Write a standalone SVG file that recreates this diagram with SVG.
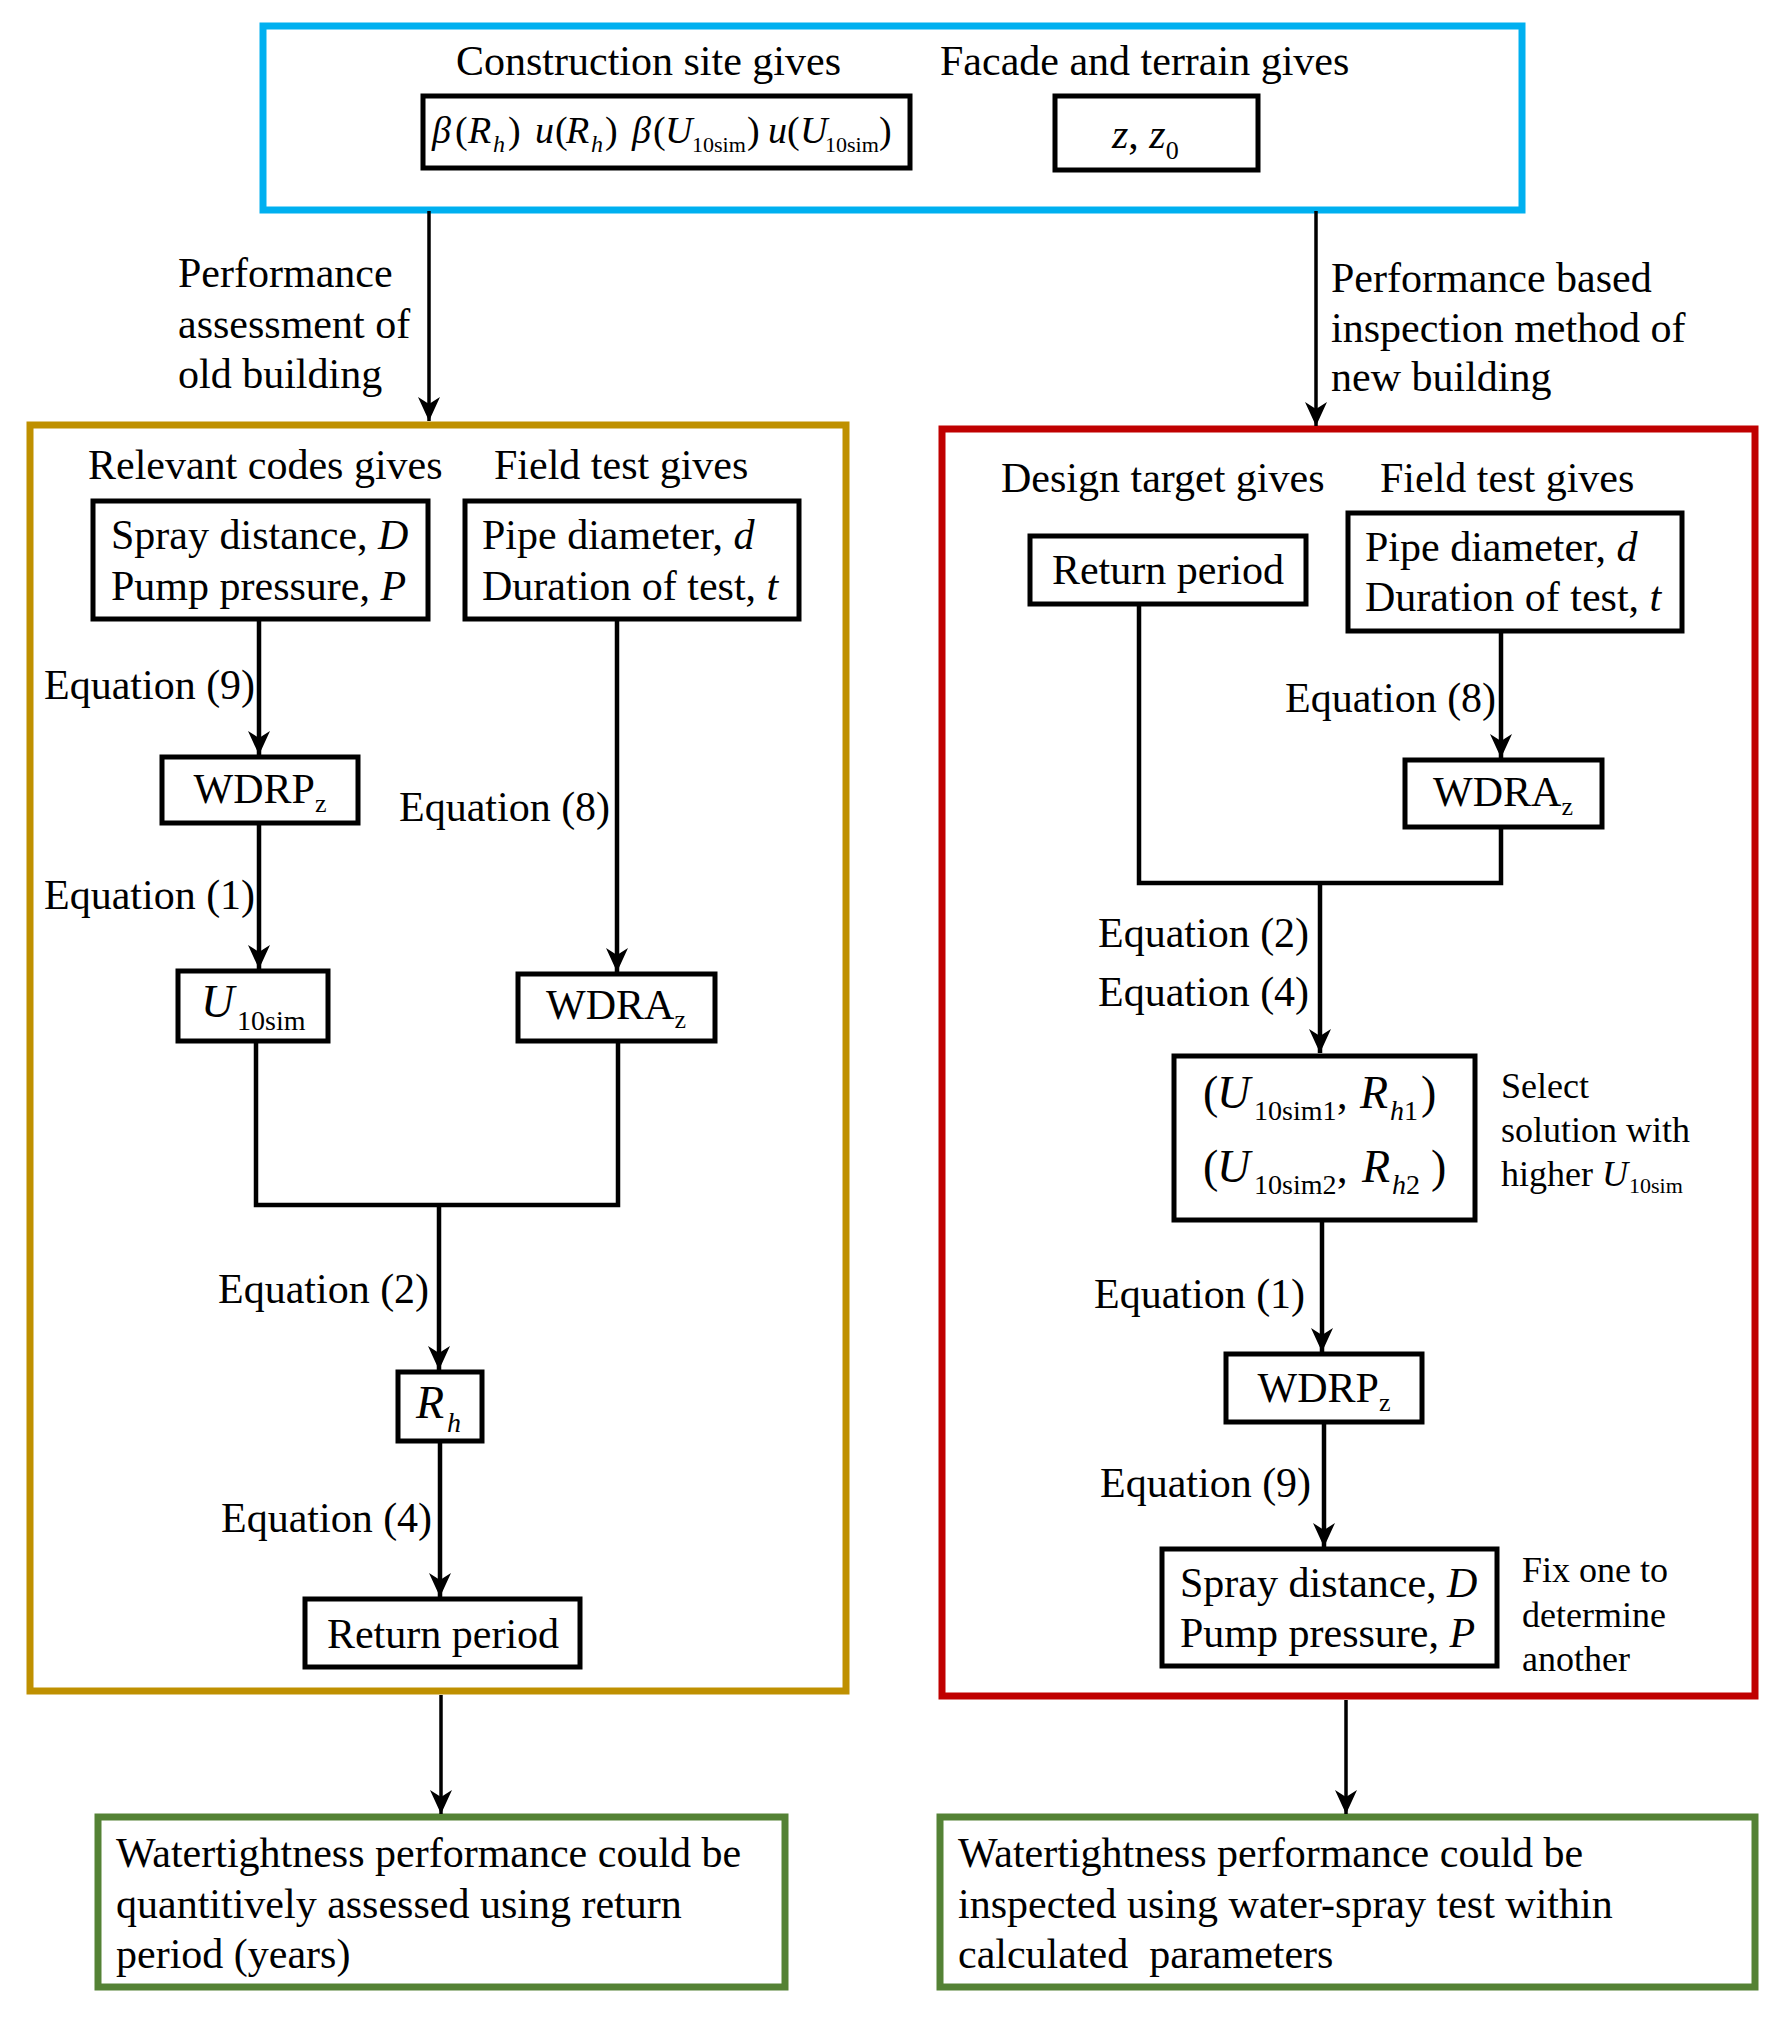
<svg xmlns="http://www.w3.org/2000/svg" width="1792" height="2020" viewBox="0 0 1792 2020">
<style>
text{font-family:"Liberation Serif","Times New Roman",serif;fill:#000;font-size:42px}
.i{font-style:italic}
.s{font-size:26px}
.m{text-anchor:middle}
.box{fill:#fff;stroke:#000;stroke-width:5}
.cn{fill:none;stroke:#000;stroke-width:4.5}
.co{fill:none;stroke:#000;stroke-width:3.5}
.f38{font-size:38px}
.f36{font-size:36px}
.f46{font-size:46px}
.f28{font-size:28px}
.f24{font-size:24px}
.f22{font-size:22px}
</style>
<defs>
<marker id="ah" viewBox="0 0 24 22" refX="24" refY="11" markerWidth="24" markerHeight="22" markerUnits="userSpaceOnUse" orient="auto">
<path d="M0,0 L24,11 L0,22 L7,11 z" fill="#000"/>
</marker>
</defs>

<g id="top-panel">
<rect x="263" y="26" width="1259" height="184" fill="#fff" stroke="#00B0F0" stroke-width="7"/>
<text x="456" y="75">Construction site gives</text>
<text x="940" y="75">Facade and terrain gives</text>
</g>
<g id="node-formula">
<rect class="box" x="423" y="96" width="487" height="72"/>
<text class="f38" y="143"><tspan x="432" class="i">β</tspan><tspan x="455">(</tspan><tspan x="468" class="i">R</tspan></text>
<text class="f24 i" x="493" y="152">h</text>
<text class="f38" y="143"><tspan x="508">)</tspan><tspan x="535" class="i">u</tspan><tspan x="555">(</tspan><tspan x="566" class="i">R</tspan></text>
<text class="f24 i" x="591" y="152">h</text>
<text class="f38" y="143"><tspan x="605">)</tspan><tspan x="632" class="i">β</tspan><tspan x="653">(</tspan><tspan x="665" class="i">U</tspan></text>
<text class="f22" x="692" y="152">10sim</text>
<text class="f38" y="143"><tspan x="747">)</tspan><tspan x="768" class="i">u</tspan><tspan x="787">(</tspan><tspan x="800" class="i">U</tspan></text>
<text class="f22" x="825" y="152">10sim</text>
<text class="f38" x="879" y="143">)</text>
</g>
<g id="node-z">
<rect class="box" x="1055" y="96" width="203" height="74"/>
<text y="148"><tspan x="1112" class="i">z</tspan><tspan>, </tspan><tspan class="i">z</tspan><tspan class="s" dy="11">0</tspan></text>
</g>

<g id="left-panel">
<rect x="30" y="425" width="816" height="1266" fill="none" stroke="#BF9000" stroke-width="7"/>
<text x="88" y="479">Relevant codes gives</text>
<text x="494" y="479">Field test gives</text>
</g>
<g id="node-l-spray">
<rect class="box" x="93" y="501" width="335" height="118"/>
<text x="111" y="549">Spray distance, <tspan class="i">D</tspan></text>
<text x="111" y="600">Pump pressure, <tspan class="i">P</tspan></text>
</g>
<g id="node-l-pipe">
<rect class="box" x="465" y="501" width="334" height="118"/>
<text x="482" y="549">Pipe diameter, <tspan class="i">d</tspan></text>
<text x="482" y="600">Duration of test, <tspan class="i">t</tspan></text>
</g>
<g id="node-l-wdrp">
<rect class="box" x="162" y="757" width="196" height="66"/>
<text class="m" x="260" y="803">WDRP<tspan class="s" dy="9">z</tspan></text>
</g>
<g id="node-l-u">
<rect class="box" x="178" y="971" width="150" height="70"/>
<text class="i f46" x="201" y="1017">U</text>
<text class="f28" x="237" y="1030">10sim</text>
</g>
<g id="node-l-wdra">
<rect class="box" x="518" y="974" width="197" height="67"/>
<text class="m" x="616" y="1019">WDRA<tspan class="s" dy="9">z</tspan></text>
</g>
<g id="node-l-rh">
<rect class="box" x="398" y="1372" width="84" height="69"/>
<text class="i f46" x="416" y="1418">R</text>
<text class="i f28" x="447" y="1432">h</text>
</g>
<g id="node-l-return">
<rect class="box" x="305" y="1599" width="275" height="68"/>
<text class="m" x="443" y="1648">Return period</text>
</g>

<g id="right-panel">
<rect x="942" y="429" width="813" height="1267" fill="none" stroke="#C00000" stroke-width="7"/>
<text x="1001" y="492">Design target gives</text>
<text x="1380" y="492">Field test gives</text>
</g>
<g id="node-r-return">
<rect class="box" x="1030" y="536" width="276" height="68"/>
<text class="m" x="1168" y="584">Return period</text>
</g>
<g id="node-r-pipe">
<rect class="box" x="1348" y="513" width="334" height="118"/>
<text x="1365" y="561">Pipe diameter, <tspan class="i">d</tspan></text>
<text x="1365" y="611">Duration of test, <tspan class="i">t</tspan></text>
</g>
<g id="node-r-wdra">
<rect class="box" x="1405" y="760" width="197" height="67"/>
<text class="m" x="1503" y="806">WDRA<tspan class="s" dy="9">z</tspan></text>
</g>
<g id="node-r-pair">
<rect class="box" x="1174" y="1056" width="301" height="164"/>
<text class="f46" x="1203" y="1108">(</text>
<text class="i f46" x="1217" y="1108">U</text>
<text class="f28" x="1254" y="1120">10sim1</text>
<text x="1337" y="1108">,</text>
<text class="i f46" x="1360" y="1108">R</text>
<text class="f28" x="1390" y="1120"><tspan class="i">h</tspan>1</text>
<text class="f46" x="1421" y="1108">)</text>
<text class="f46" x="1203" y="1182">(</text>
<text class="i f46" x="1217" y="1182">U</text>
<text class="f28" x="1254" y="1194">10sim2</text>
<text x="1337" y="1182">,</text>
<text class="i f46" x="1362" y="1182">R</text>
<text class="f28" x="1392" y="1194"><tspan class="i">h</tspan>2</text>
<text class="f46" x="1431" y="1182">)</text>
</g>
<g id="note-select">
<text class="f36" x="1501" y="1098">Select</text>
<text class="f36" x="1501" y="1142">solution with</text>
<text class="f36" x="1501" y="1186">higher <tspan class="i">U</tspan></text>
<text class="f22" x="1629" y="1193">10sim</text>
</g>
<g id="node-r-wdrp">
<rect class="box" x="1226" y="1354" width="196" height="68"/>
<text class="m" x="1324" y="1402">WDRP<tspan class="s" dy="9">z</tspan></text>
</g>
<g id="node-r-spray">
<rect class="box" x="1162" y="1549" width="335" height="117"/>
<text x="1180" y="1597">Spray distance, <tspan class="i">D</tspan></text>
<text x="1180" y="1647">Pump pressure, <tspan class="i">P</tspan></text>
</g>
<g id="note-fix">
<text class="f36" x="1522" y="1582">Fix one to</text>
<text class="f36" x="1522" y="1627">determine</text>
<text class="f36" x="1522" y="1671">another</text>
</g>

<g id="node-green-left">
<rect x="98" y="1817" width="687" height="170" fill="#fff" stroke="#548235" stroke-width="7"/>
<text x="116" y="1867">Watertightness performance could be</text>
<text x="116" y="1918">quantitively assessed using return</text>
<text x="116" y="1968">period (years)</text>
</g>
<g id="node-green-right">
<rect x="940" y="1817" width="815" height="170" fill="#fff" stroke="#548235" stroke-width="7"/>
<text x="958" y="1867">Watertightness performance could be</text>
<text x="958" y="1918">inspected using water-spray test within</text>
<text x="958" y="1968" xml:space="preserve">calculated  parameters</text>
</g>

<g id="connectors">
<line class="co" x1="429" y1="211" x2="429" y2="421" marker-end="url(#ah)"/>
<line class="co" x1="1316" y1="211" x2="1316" y2="426" marker-end="url(#ah)"/>
<line class="co" x1="441" y1="1695" x2="441" y2="1814" marker-end="url(#ah)"/>
<line class="co" x1="1346" y1="1700" x2="1346" y2="1814" marker-end="url(#ah)"/>
<line class="cn" x1="259" y1="619" x2="259" y2="755" marker-end="url(#ah)"/>
<line class="cn" x1="259" y1="823" x2="259" y2="969" marker-end="url(#ah)"/>
<line class="cn" x1="617" y1="619" x2="617" y2="972" marker-end="url(#ah)"/>
<polyline class="cn" points="256,1041 256,1205 618,1205 618,1041"/>
<line class="cn" x1="439" y1="1205" x2="439" y2="1370" marker-end="url(#ah)"/>
<line class="cn" x1="440" y1="1441" x2="440" y2="1597" marker-end="url(#ah)"/>
<line class="cn" x1="1501" y1="631" x2="1501" y2="758" marker-end="url(#ah)"/>
<polyline class="cn" points="1139,604 1139,883 1501,883 1501,827"/>
<line class="cn" x1="1320" y1="883" x2="1320" y2="1053" marker-end="url(#ah)"/>
<line class="cn" x1="1322" y1="1220" x2="1322" y2="1352" marker-end="url(#ah)"/>
<line class="cn" x1="1324" y1="1422" x2="1324" y2="1547" marker-end="url(#ah)"/>
</g>

<g id="labels">
<text x="178" y="287">Performance</text>
<text x="178" y="338">assessment of</text>
<text x="178" y="388">old building</text>
<text x="1331" y="292">Performance based</text>
<text x="1331" y="342">inspection method of</text>
<text x="1331" y="391">new building</text>
<text x="44" y="699">Equation (9)</text>
<text x="44" y="909">Equation (1)</text>
<text x="399" y="821">Equation (8)</text>
<text x="218" y="1303">Equation (2)</text>
<text x="221" y="1532">Equation (4)</text>
<text x="1285" y="712">Equation (8)</text>
<text x="1098" y="947">Equation (2)</text>
<text x="1098" y="1006">Equation (4)</text>
<text x="1094" y="1308">Equation (1)</text>
<text x="1100" y="1497">Equation (9)</text>
</g>
</svg>
